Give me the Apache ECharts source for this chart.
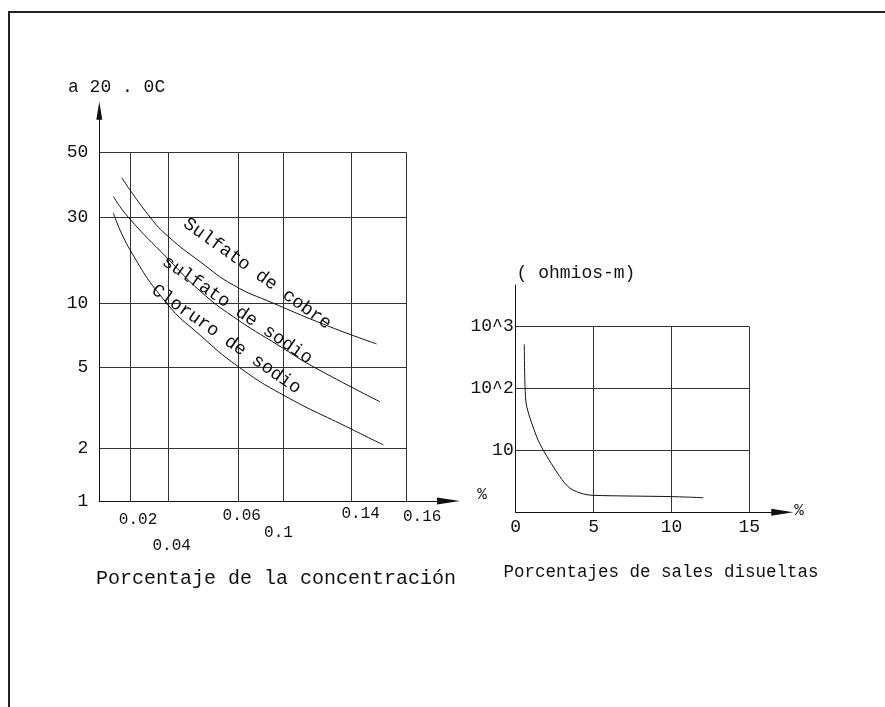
<!DOCTYPE html>
<html>
<head>
<meta charset="utf-8">
<script src="https://cdn.jsdelivr.net/npm/echarts@6/dist/echarts.min.js"></script>
<style>
  html, body { margin: 0; padding: 0; background: #fff; }
  #chart { width: 885px; height: 707px; }
</style>
</head>
<body>
<div id="chart"></div>
<script>
// ---- Left plot: conductivity vs. concentration (schematic grid units 0..100) ----
const xTickAt     = [10, 22.4, 45.2, 59.9, 82.1, 100];
const xTickLabels = ['0.02', '0.04', '0.06', '0.1', '0.14', '0.16'];
const yTickAt     = [0, 15.1, 38.3, 56.8, 81.5, 100];
const yTickLabels = ['1', '2', '5', '10', '30', '50'];

const curveNames = ['Sulfato de cobre', 'sulfato de sodio', 'Cloruro de sodio'];
const sulfatoCobre = [
  [7.3, 92.8], [16.5, 81.5], [22.5, 75.9], [32.8, 68.7], [43.6, 62.0],
  [56.6, 56.8], [75.1, 50.0], [90.2, 45.1]
];
const sulfatoSodio = [
  [4.6, 87.4], [9.4, 81.5], [22.5, 69.4], [32.8, 60.3], [43.6, 52.9],
  [59.9, 43.8], [69.1, 38.8], [91.3, 28.5]
];
const cloruroSodio = [
  [4.6, 82.6], [10.0, 72.1], [21.9, 56.8], [32.8, 47.6], [45.2, 38.6],
  [59.9, 30.4], [82.1, 20.6], [92.4, 16.1]
];

// ---- Right plot: resistivity (ohm-m) vs. dissolved salts (%) ----
const rXTicks = [0, 5, 10, 15];
const rYTicks = [1, 10, 100, 1000];
const rYTickLabels = ['', '10', '10^2', '10^3'];
const resistividad = [
  [0.55, 518], [0.6, 107], [0.71, 50.8], [1.35, 16.6], [1.77, 10.1],
  [2.84, 3.76], [3.49, 2.44], [4.34, 1.98], [4.98, 1.88], [10.12, 1.79], [12.05, 1.72]
];

// ---- styling ----
const FONT = "'Liberation Mono', 'DejaVu Sans Mono', monospace";
const INK = '#111';
const GRID_INK = '#333';
const xLabelNudge = [[8, 19], [3.5, 45], [3.5, 15], [-5, 32], [9, 13], [15.5, 16]];
const curveLabelPlace = [[51.4, 65.3, -35.7], [44.9, 54.8, -34.4], [41.3, 46.4, -34.9]];

const chart = echarts.init(document.getElementById('chart'), null, { renderer: 'canvas' });

const hiddenAxis = {
  axisLabel: { show: false }, axisTick: { show: false }, splitLine: { show: false }
};

const plainLabel = (size) => ({
  show: true, position: 'inside', color: INK, opacity: 1, fontFamily: FONT, fontSize: size,
  textBorderWidth: 0, textBorderColor: 'transparent', textShadowBlur: 0
});

const option = {
  animation: false,
  backgroundColor: '#fff',
  grid: [
    // 0: left plot area
    { left: 99.3, right: 478.3, top: 152.7, bottom: 206 },
    // 1: left axis lines with arrows
    { left: 99.3, right: 436.5, top: 110.7, bottom: 206 },
    // 2: right plot area
    { left: 515.7, right: 135.7, top: 326.7, bottom: 194.7 },
    // 3: right axis lines
    { left: 515.7, right: 102.7, top: 285, bottom: 194.7 }
  ],
  xAxis: [
    {
      gridIndex: 0, type: 'value', min: 0, max: 100,
      axisLine: { show: false },
      axisTick: { show: false, customValues: xTickAt },
      axisLabel: { show: false },
      splitLine: { show: true, lineStyle: { color: GRID_INK, width: 1 } }
    },
    Object.assign({
      gridIndex: 1, type: 'value', min: 0, max: 1,
      axisLine: { show: true, symbol: ['none', 'triangle'], symbolSize: [7, 23],
        lineStyle: { color: INK, width: 1 } }
    }, hiddenAxis),
    {
      gridIndex: 2, type: 'value', min: 0, max: 15,
      axisLine: { show: false },
      axisTick: { show: false, customValues: rXTicks },
      axisLabel: { show: true, customValues: rXTicks, margin: 6,
        color: INK, fontFamily: FONT, fontSize: 18 },
      splitLine: { show: true, lineStyle: { color: GRID_INK, width: 1 } }
    },
    Object.assign({
      gridIndex: 3, type: 'value', min: 0, max: 1,
      axisLine: { show: true, symbol: ['none', 'triangle'], symbolSize: [7, 22],
        lineStyle: { color: INK, width: 1 } }
    }, hiddenAxis)
  ],
  yAxis: [
    {
      gridIndex: 0, type: 'value', min: 0, max: 100,
      axisLine: { show: false },
      axisTick: { show: false, customValues: yTickAt },
      axisLabel: {
        show: true, customValues: yTickAt, margin: 11,
        color: INK, fontFamily: FONT, fontSize: 18,
        formatter: v => yTickLabels[yTickAt.indexOf(v)]
      },
      splitLine: { show: true, lineStyle: { color: GRID_INK, width: 1 } }
    },
    Object.assign({
      gridIndex: 1, type: 'value', min: 0, max: 1,
      axisLine: { show: true, symbol: ['none', 'triangle'], symbolSize: [6, 18],
        lineStyle: { color: INK, width: 1 } }
    }, hiddenAxis),
    {
      gridIndex: 2, type: 'log', logBase: 10, min: 1, max: 1000,
      axisLine: { show: false },
      axisTick: { show: false, customValues: rYTicks },
      axisLabel: {
        show: true, customValues: rYTicks.slice(1), margin: 2,
        color: INK, fontFamily: FONT, fontSize: 18,
        formatter: v => rYTickLabels[rYTicks.indexOf(v)]
      },
      splitLine: { show: true, lineStyle: { color: GRID_INK, width: 1 } }
    },
    Object.assign({
      gridIndex: 3, type: 'value', min: 0, max: 1,
      axisLine: { show: true, lineStyle: { color: INK, width: 1 } }
    }, hiddenAxis)
  ],
  series: [
    ...[sulfatoCobre, sulfatoSodio, cloruroSodio].map((d, i) => ({
      name: curveNames[i], type: 'line', xAxisIndex: 0, yAxisIndex: 0,
      data: d, smooth: 0.5, showSymbol: false, symbol: 'none',
      lineStyle: { color: INK, width: 1 }
    })),
    {
      // curve names written along each curve
      type: 'scatter', xAxisIndex: 0, yAxisIndex: 0, symbolSize: 0, clip: false,
      itemStyle: { color: INK, opacity: 1 },
      data: curveNames.map((n, i) => ({
        value: [curveLabelPlace[i][0], curveLabelPlace[i][1]],
        label: Object.assign(plainLabel(18.5), { formatter: n, rotate: curveLabelPlace[i][2] })
      }))
    },
    {
      // concentration tick labels, staggered below the axis
      type: 'scatter', xAxisIndex: 0, yAxisIndex: 0, symbolSize: 0, clip: false,
      itemStyle: { color: INK, opacity: 1 },
      data: xTickAt.map((x, i) => ({
        value: [x, 0],
        label: Object.assign(plainLabel(16), { formatter: xTickLabels[i], offset: xLabelNudge[i] })
      }))
    },
    {
      name: 'Resistividad', type: 'line', xAxisIndex: 2, yAxisIndex: 2,
      data: resistividad, smooth: 0.3, showSymbol: false, symbol: 'none',
      lineStyle: { color: INK, width: 1 }
    }
  ],
  graphic: [
    {
      type: 'polyline', silent: true,
      shape: { points: [[9, 707], [9, 12], [885, 12]] },
      style: { stroke: '#222', lineWidth: 2, fill: null }
    },
    { type: 'text', x: 68, y: 87,
      style: { text: 'a 20 . 0C', font: '18px ' + FONT, fill: INK, textAlign: 'left', textVerticalAlign: 'middle' } },
    { type: 'text', x: 576, y: 273,
      style: { text: '( ohmios-m)', font: '18px ' + FONT, fill: INK, textAlign: 'center', textVerticalAlign: 'middle' } },
    { type: 'text', x: 276, y: 579,
      style: { text: 'Porcentaje de la concentración', font: '20px ' + FONT, fill: INK, textAlign: 'center', textVerticalAlign: 'middle' } },
    { type: 'text', x: 661, y: 572,
      style: { text: 'Porcentajes de sales disueltas', font: '17.5px ' + FONT, fill: INK, textAlign: 'center', textVerticalAlign: 'middle' } },
    { type: 'text', x: 482, y: 495,
      style: { text: '%', font: '16px ' + FONT, fill: INK, textAlign: 'center', textVerticalAlign: 'middle' } },
    { type: 'text', x: 799, y: 511,
      style: { text: '%', font: '16px ' + FONT, fill: INK, textAlign: 'center', textVerticalAlign: 'middle' } }
  ]
};

chart.setOption(option);
</script>
</body>
</html>
